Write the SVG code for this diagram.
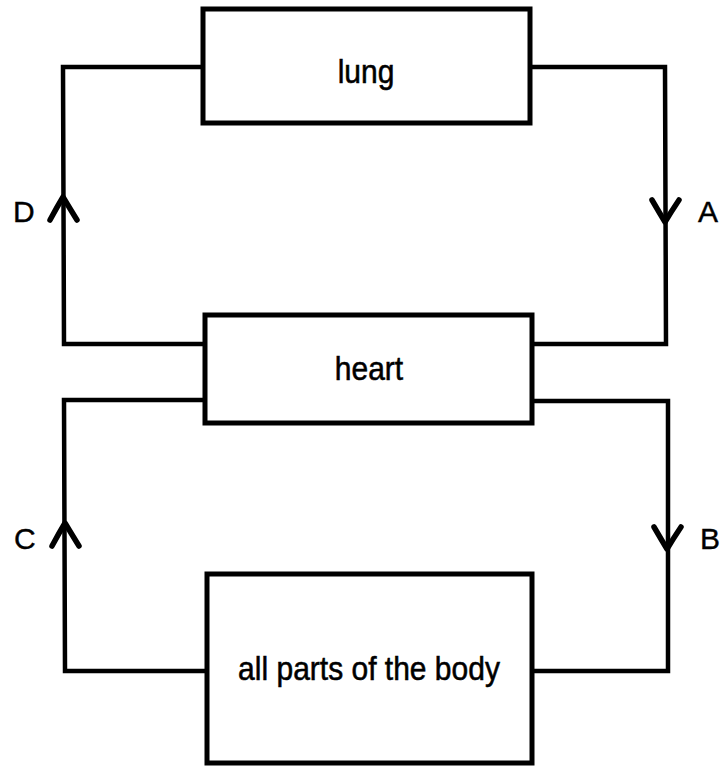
<svg xmlns="http://www.w3.org/2000/svg" xmlns:xlink="http://www.w3.org/1999/xlink" width="722" height="767" viewBox="0 0 722 767">
  <style>
    .box { fill: #ffffff; stroke: #000000; stroke-width: 5; }
    .wire { fill: none; stroke: #000000; stroke-width: 4.5; stroke-linejoin: miter; }
    .head { fill: none; stroke: #000000; stroke-width: 5.5; stroke-linecap: round; stroke-linejoin: round; }
    .label { font-family: "Liberation Sans", Arial, sans-serif; font-size: 30px; fill: #000000; stroke: #000000; stroke-width: 0.5; text-anchor: middle; }
    .tag { font-family: "Liberation Sans", Arial, sans-serif; font-size: 30px; fill: #000000; stroke: #000000; stroke-width: 0.4; }
  </style>
  <defs>
    <!-- open chevron, tip at the origin, pointing up -->
    <path id="chev-up" class="head" d="M -13 23 Q -6 10 0 0 Q 6 10 14 23"/>
    <path id="chev-down" class="head" d="M -13 -22 Q -6 -10 0 0 Q 6 -10 14 -22"/>
  </defs>
  <rect width="722" height="767" fill="#ffffff"/>

  <g id="connectors">
    <!-- lung to heart, right side (A) -->
    <polyline class="wire" points="530,67 665,67 666,344 532,344"/>
    <!-- heart to lung, left side (D) -->
    <polyline class="wire" points="205,344 64,344 63,67 203,67"/>
    <!-- heart to body, right side (B) -->
    <polyline class="wire" points="532,401 668,401 668,671 532,671"/>
    <!-- body to heart, left side (C) -->
    <polyline class="wire" points="207,671 65,671 64,400 205,400"/>
    <use xlink:href="#chev-up" x="63" y="197"/>
    <use xlink:href="#chev-down" x="665" y="222"/>
    <use xlink:href="#chev-up" x="65" y="523"/>
    <use xlink:href="#chev-down" x="667" y="549"/>
  </g>

  <g id="lung">
    <rect class="box" x="203" y="9" width="327" height="114"/>
    <text class="label" transform="translate(366,83) scale(1,1.08)">lung</text>
  </g>
  <g id="heart">
    <rect class="box" x="205" y="315" width="327" height="108"/>
    <text class="label" transform="translate(369,380) scale(1,1.08)">heart</text>
  </g>
  <g id="body">
    <rect class="box" x="207" y="574" width="325" height="189"/>
    <text class="label" transform="translate(369,680) scale(1,1.08)">all parts of the body</text>
  </g>

  <g id="labels">
    <text class="tag" x="13" y="222">D</text>
    <text class="tag" x="698" y="222">A</text>
    <text class="tag" x="14" y="549">C</text>
    <text class="tag" x="700" y="549">B</text>
  </g>
</svg>
